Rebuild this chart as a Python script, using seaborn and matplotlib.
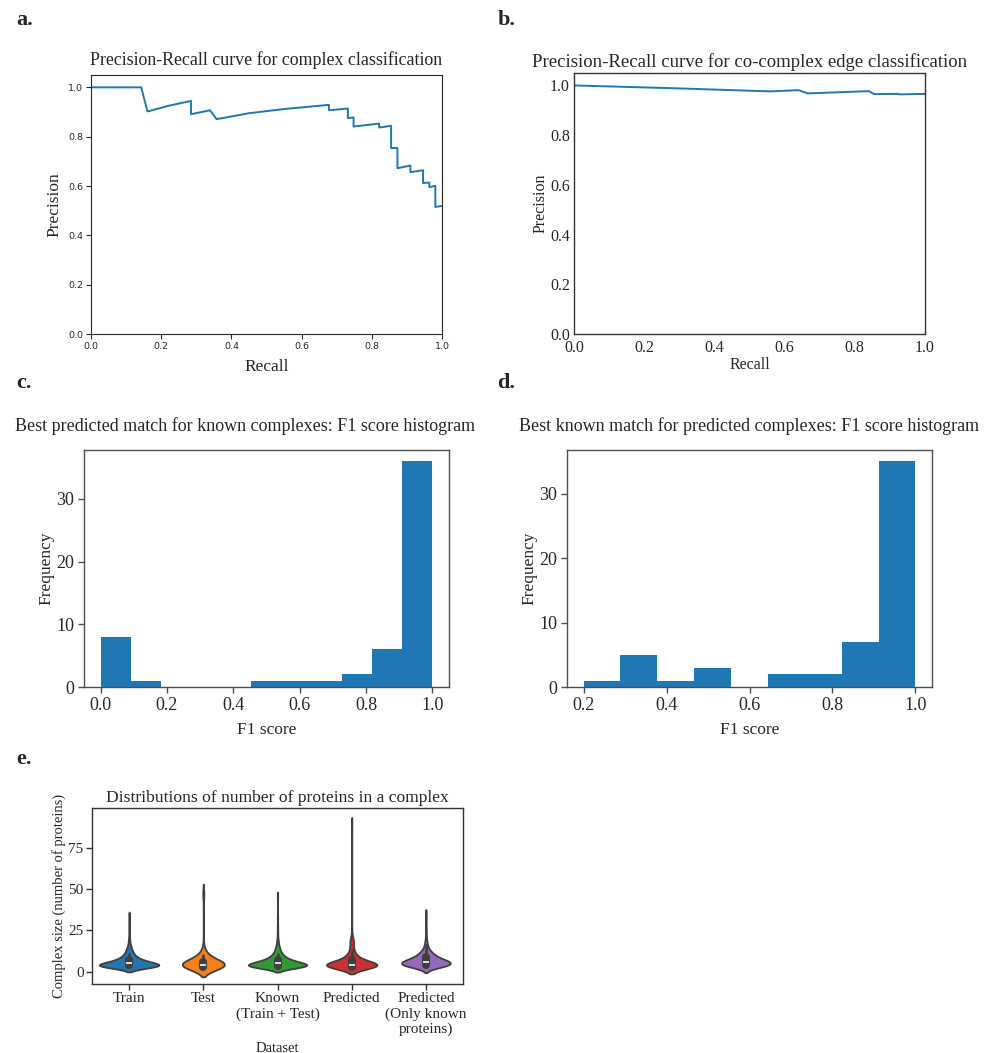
import numpy as np
import pandas as pd
import matplotlib
matplotlib.use("Agg")
import matplotlib.pyplot as plt
from matplotlib.collections import PolyCollection
import seaborn as sns

# ---------------- data ----------------
# a. PR curve for complex classification
rec_a = [0.0, 0.143, 0.161, 0.22, 0.285, 0.285, 0.339, 0.358, 0.45, 0.55, 0.678,
         0.678, 0.732, 0.732, 0.748, 0.748, 0.821, 0.821, 0.855, 0.855, 0.873,
         0.873, 0.910, 0.910, 0.946, 0.946, 0.964, 0.964, 0.981, 0.981, 1.0]
prec_a = [1.0, 1.0, 0.902, 0.925, 0.945, 0.891, 0.907, 0.871, 0.895, 0.912, 0.929,
          0.907, 0.914, 0.875, 0.878, 0.841, 0.853, 0.837, 0.844, 0.754, 0.754,
          0.672, 0.683, 0.656, 0.664, 0.612, 0.614, 0.595, 0.601, 0.515, 0.519]

# b. PR curve for co-complex edge classification
rec_b = [0.0, 0.30, 0.56, 0.64, 0.665, 0.84, 0.855, 0.92, 0.93, 1.0]
prec_b = [1.0, 0.988, 0.976, 0.981, 0.968, 0.977, 0.965, 0.966, 0.964, 0.966]

# c. histogram of F1 (best predicted match for known complexes)
c_range = (0.0, 1.0)
c_counts = [8, 1, 0, 0, 0, 1, 1, 1, 2, 6, 36]

# d. histogram of F1 (best known match for predicted complexes)
d_range = (0.2, 1.0)
d_counts = [1, 5, 1, 3, 0, 2, 2, 7, 35]

# e. complex size distributions (size values and how many complexes have them)
datasets = ["Train", "Test", "Known\n(Train + Test)", "Predicted",
            "Predicted\n(Only known\nproteins)"]
train_sizes = [3, 4, 5, 6, 7, 8, 9, 10, 11, 12, 13, 14, 15, 16, 18, 20, 22, 25, 28, 33]
train_counts = [50, 45, 30, 20, 14, 10, 8, 6, 5, 4, 3, 3, 2, 2, 2, 1, 1, 1, 1, 1]
test_sizes = [3, 4, 5, 6, 7, 8, 9, 10, 12, 14, 47]
test_counts = [14, 12, 7, 4, 3, 2, 2, 1, 1, 1, 1]
known_sizes = [3, 4, 5, 6, 7, 8, 9, 10, 11, 12, 13, 14, 15, 16, 18, 20, 22, 25, 28, 33, 45]
known_counts = [65, 55, 37, 25, 17, 13, 10, 8, 5, 5, 3, 4, 2, 2, 3, 1, 1, 1, 1, 1, 1]
pred_sizes = [3, 4, 5, 6, 7, 8, 9, 10, 11, 12, 13, 14, 15, 16, 17, 18, 19, 20, 22, 25, 89]
pred_counts = [75, 65, 35, 22, 15, 10, 8, 6, 5, 4, 3, 3, 2, 2, 2, 3, 4, 3, 1, 1, 1]
predk_sizes = [3, 4, 5, 6, 7, 8, 9, 10, 11, 12, 13, 14, 16, 18, 20, 24, 34]
predk_counts = [12, 17, 18, 15, 11, 8, 6, 5, 4, 3, 2, 2, 2, 1, 1, 1, 1]

# ---------------- style ----------------
sns.set_theme(style="ticks")
SERIF = ["Liberation Serif", "DejaVu Serif"]
plt.rcParams["font.family"] = SERIF
plt.rcParams["mathtext.fontset"] = "stix"
BLUE = "#1f77b4"

fig = plt.figure(figsize=(9.88, 10.53), dpi=100)
W, H = 988.0, 1053.0


def add_ax(left, top, right, bottom):
    return fig.add_axes([left / W, 1 - bottom / H, (right - left) / W, (bottom - top) / H])


def frame(ax, color="0.2", lw=1.0):
    for s in ax.spines.values():
        s.set_visible(True)
        s.set_color(color)
        s.set_linewidth(lw)


# ---- a ----
ax = add_ax(91, 75, 442, 334)
sns.lineplot(x=rec_a, y=prec_a, ax=ax, sort=False, estimator=None, color=BLUE, lw=1.4)
ax.set_xlim(0, 1)
ax.set_ylim(0, 1.05)
ax.set_xticks(np.arange(0, 1.01, 0.2))
ax.set_yticks(np.arange(0, 1.01, 0.2))
frame(ax, "0.15", 0.8)
ax.tick_params(length=3.5, width=0.8, color="0.15", labelsize=6.8, pad=2)
for t in ax.get_xticklabels() + ax.get_yticklabels():
    t.set_fontfamily("DejaVu Sans")
ax.set_xlabel("Recall", fontsize=12.5, labelpad=6)
ax.set_ylabel("Precision", fontsize=12.5, labelpad=4)
ax.set_title("Precision-Recall curve for complex classification", fontsize=12.9, pad=7)

# ---- b ----
ax = add_ax(574, 73, 925, 334)
sns.lineplot(x=rec_b, y=prec_b, ax=ax, sort=False, estimator=None, color=BLUE, lw=1.4)
ax.set_xlim(0, 1)
ax.set_ylim(0, 1.05)
ax.set_xticks(np.arange(0, 1.01, 0.2))
ax.set_yticks(np.arange(0, 1.01, 0.2))
frame(ax, "0.2", 1.0)
ax.tick_params(axis="x", length=0, labelsize=11.5, pad=4)
ax.tick_params(axis="y", length=0, labelsize=11.5, pad=3)
ax.set_xlabel("Recall", fontsize=11.5, labelpad=1)
ax.set_ylabel("Precision", fontsize=11.5, labelpad=1)
ax.set_title("Precision-Recall curve for co-complex edge classification",
             fontsize=13.5, pad=4)


def hist_panel(ax, rng, counts, title, xticks, title_x=0.5):
    width = (rng[1] - rng[0]) / len(counts)
    centers = [rng[0] + width * (i + 0.5) for i in range(len(counts))]
    hd = pd.DataFrame({"F1": centers, "n": counts})
    sns.histplot(data=hd, x="F1", weights="n", bins=len(counts), binrange=rng,
                 ax=ax, color=BLUE, alpha=1, linewidth=0)
    ax.set_xlim(rng[0] - 0.05 * (rng[1] - rng[0]), rng[1] + 0.05 * (rng[1] - rng[0]))
    ax.set_ylim(0, max(counts) * 1.05)
    ax.set_xticks(xticks)
    ax.set_yticks([0, 10, 20, 30])
    frame(ax, "0.3", 1.0)
    ax.tick_params(length=4, width=1, color="0.3", labelsize=13, pad=3)
    ax.set_xlabel("F1 score", fontsize=12.5, labelpad=6)
    ax.set_ylabel("Frequency", fontsize=12.5, labelpad=1)
    ax.set_title(title, fontsize=13, pad=14, x=title_x)


# ---- c ----
ax = add_ax(84, 450, 449, 687)
hist_panel(ax, c_range, c_counts,
           "Best predicted match for known complexes: F1 score histogram",
           np.arange(0, 1.01, 0.2), title_x=0.44)

# ---- d ----
ax = add_ax(567, 450, 932, 687)
hist_panel(ax, d_range, d_counts,
           "Best known match for predicted complexes: F1 score histogram",
           np.arange(0.2, 1.01, 0.2))

# ---- e ----
ax = add_ax(92, 808, 463, 984)
groups = [(train_sizes, train_counts), (test_sizes, test_counts),
          (known_sizes, known_counts), (pred_sizes, pred_counts),
          (predk_sizes, predk_counts)]
rows = []
for name, (sz, ct) in zip(datasets, groups):
    for v in np.repeat(sz, ct):
        rows.append((name, float(v)))
df = pd.DataFrame(rows, columns=["Dataset", "Complex size (number of proteins)"])
# no hue: all violins share one area normalisation (as in the reference)
sns.violinplot(data=df, x="Dataset", y="Complex size (number of proteins)",
               order=datasets, ax=ax, linewidth=1.3, width=0.8, saturation=0.9,
               color=BLUE)
pal = sns.color_palette("tab10", len(datasets))
bodies = [c for c in ax.collections if isinstance(c, PolyCollection)]
for body, col in zip(bodies, pal):
    body.set_facecolor(sns.desaturate(col, 0.9))
ax.set_ylim(-7.4, 99)
ax.set_yticks([0, 25, 50, 75])
frame(ax, "0.2", 1.0)
ax.tick_params(length=4, width=1, color="0.2", labelsize=11, pad=2)
ax.set_xlabel("Dataset", fontsize=10.5, labelpad=4)
ax.set_ylabel("Complex size (number of proteins)", fontsize=10.5, labelpad=2)
ax.set_title("Distributions of number of proteins in a complex", fontsize=12.6, pad=4)

# ---- panel letters ----
for letter, x, y in [("a.", 16, 25), ("b.", 498, 25), ("c.", 16, 388),
                     ("d.", 497, 388), ("e.", 16, 764)]:
    fig.text(x / W, 1 - y / H, letter, fontsize=16, fontweight="bold",
             ha="left", va="baseline")

fig.savefig("out.png", dpi=100)
